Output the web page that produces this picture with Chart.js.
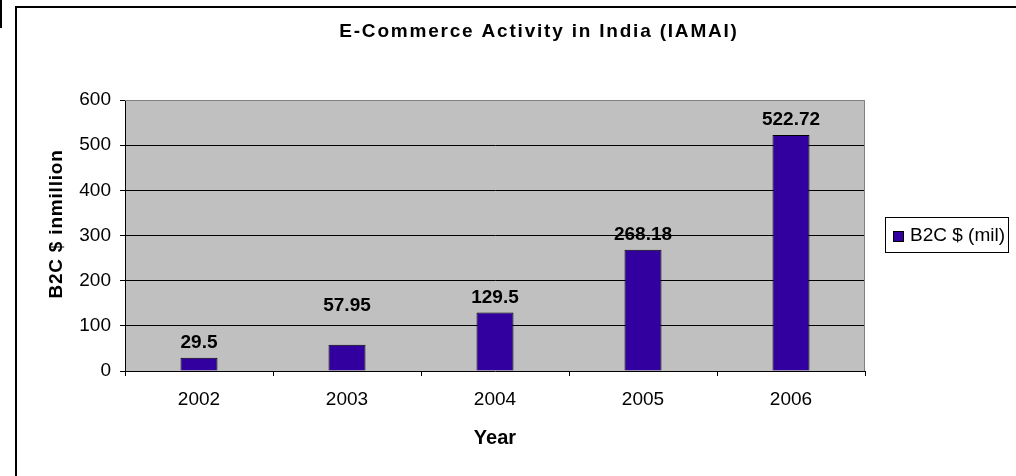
<!DOCTYPE html>
<html>
<head>
<meta charset="utf-8">
<script src="https://cdn.jsdelivr.net/npm/chart.js@4.4.1/dist/chart.umd.min.js"></script>
<style>
  html, body { margin: 0; padding: 0; background: #fff; }
  #wrap { width: 1016px; height: 476px; }
</style>
</head>
<body>
<div id="wrap"><canvas id="chart"></canvas></div>
<script>
// data
const years = ["2002", "2003", "2004", "2005", "2006"];
const b2cValues = [29.5, 57.95, 129.5, 268.18, 522.72];
const seriesName = "B2C $ (mil)";
const yTitle = "B2C $ inmillion";

// label for 2003 sits well above its bar in the original
const labelLift = [0, 24, 0, 0, 0];

const FONT = "'Liberation Sans', Arial, sans-serif";
const BAR = "#3300a0";

const decor = {
  id: "decor",
  beforeDraw(chart) {
    const { ctx, chartArea: a } = chart;
    ctx.save();
    ctx.fillStyle = "#fff";
    ctx.fillRect(0, 0, chart.width, chart.height);
    ctx.fillStyle = "#c0c0c0";
    ctx.fillRect(a.left, a.top, a.right - a.left, a.bottom - a.top);
    ctx.restore();
  },
  afterDatasetsDraw(chart) {
    const { ctx, chartArea: a } = chart;
    ctx.save();
    // plot border (top / right) in gray
    ctx.strokeStyle = "#808080";
    ctx.lineWidth = 1;
    ctx.beginPath();
    ctx.moveTo(a.left, a.top + 0.5);
    ctx.lineTo(a.right - 0.5, a.top + 0.5);
    ctx.lineTo(a.right - 0.5, a.bottom);
    ctx.stroke();

    // value labels
    const meta = chart.getDatasetMeta(0);
    ctx.fillStyle = "#000";
    ctx.font = "bold 19px " + FONT;
    ctx.textAlign = "center";
    ctx.textBaseline = "alphabetic";
    meta.data.forEach((bar, i) => {
      ctx.fillText(String(b2cValues[i]), bar.x, bar.y - 10 - labelLift[i]);
    });
    ctx.restore();
  },
  afterDraw(chart) {
    const { ctx } = chart;
    ctx.save();
    // outer frame (only top and left edges are inside the picture)
    ctx.fillStyle = "#000";
    ctx.fillRect(15, 6, 2, chart.height - 6);
    ctx.fillRect(15, 6, chart.width - 15, 2);
    ctx.fillRect(0, 0, 2, 28);

    // title
    ctx.font = "bold 19px " + FONT;
    ctx.letterSpacing = "1.8px";
    ctx.textAlign = "center";
    ctx.textBaseline = "middle";
    ctx.fillText("E-Commerce Activity in India (IAMAI)", 539, 32);

    // y axis title, sits a bit above the plot centre in the original
    ctx.save();
    ctx.translate(62, 224);
    ctx.rotate(-Math.PI / 2);
    ctx.font = "bold 19px " + FONT;
    ctx.letterSpacing = "0.8px";
    ctx.textBaseline = "alphabetic";
    ctx.fillText(yTitle, 0, 0);
    ctx.restore();
    ctx.letterSpacing = "0px";

    // legend
    const ds = chart.data.datasets[0];
    ctx.strokeStyle = "#000";
    ctx.lineWidth = 1;
    ctx.strokeRect(885.5, 217.5, 123, 35);
    ctx.fillStyle = ds.backgroundColor;
    ctx.fillRect(893, 231, 11, 11);
    ctx.strokeRect(893.5, 231.5, 10, 10);
    ctx.fillStyle = "#000";
    ctx.font = "19px " + FONT;
    ctx.textAlign = "left";
    ctx.textBaseline = "middle";
    ctx.fillText(ds.label, 910, 236);
    ctx.restore();
  }
};

new Chart(document.getElementById("chart"), {
  type: "bar",
  data: {
    labels: years,
    datasets: [{
      label: seriesName,
      data: b2cValues,
      backgroundColor: BAR,
      borderColor: "#000",
      borderWidth: 1,
      categoryPercentage: 1,
      barPercentage: 0.25
    }]
  },
  options: {
    responsive: true,
    maintainAspectRatio: false,
    animation: false,
    layout: { padding: { left: 15, top: 100, right: 151, bottom: 0 } },
    plugins: {
      legend: { display: false },
      title: { display: false },
      tooltip: { enabled: false }
    },
    scales: {
      x: {
        offset: true,
        grid: { offset: true, drawOnChartArea: false, tickLength: 5, tickColor: "#000" },
        border: { color: "#000" },
        ticks: { color: "#000", font: { family: FONT, size: 19 }, padding: 12 },
        title: {
          display: true, text: "Year", color: "#000",
          font: { family: FONT, size: 20, weight: "bold" },
          padding: { top: 0, bottom: 26 }
        },
        afterFit(s) { s.height = 105; }
      },
      y: {
        min: 0,
        max: 600,
        ticks: { stepSize: 100, color: "#000", font: { family: FONT, size: 19 }, padding: 9 },
        grid: {
          color: c => (c.tick && c.tick.value > 0 && c.tick.value < 600) ? "#000" : "rgba(0,0,0,0)",
          tickColor: "#000",
          tickLength: 5
        },
        border: { color: "#000" },
        title: { display: false },
        afterFit(s) { s.width = 110; }
      }
    }
  },
  plugins: [decor]
});
</script>
</body>
</html>
